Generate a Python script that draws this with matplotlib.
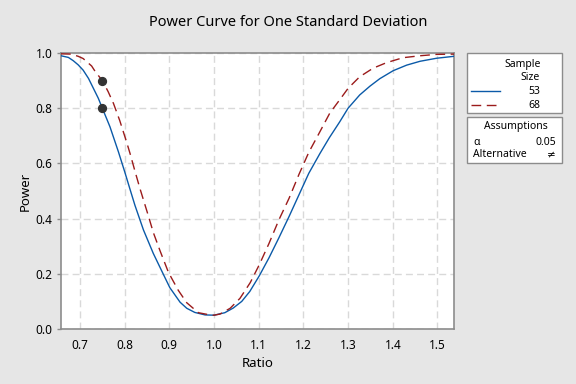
import matplotlib
matplotlib.use("Agg")
import matplotlib.pyplot as plt
from matplotlib.patches import Rectangle
from matplotlib.lines import Line2D

plt.rcParams['font.family'] = ['Noto Sans', 'DejaVu Sans']

# Sample size 53 (solid blue)
ratio_53 = [0.6575, 0.674, 0.685, 0.696, 0.707, 0.719, 0.730, 0.741, 0.75, 0.767, 0.786,
            0.800, 0.812, 0.823, 0.842, 0.864, 0.886, 0.901, 0.924, 0.939, 0.957, 0.980,
            1.000, 1.024, 1.043, 1.062, 1.080, 1.101, 1.123, 1.145, 1.168, 1.190, 1.212,
            1.237, 1.258, 1.281, 1.300, 1.326, 1.349, 1.371, 1.401, 1.431, 1.461, 1.498,
            1.537]
power_53 = [0.990, 0.984, 0.972, 0.957, 0.938, 0.908, 0.872, 0.836, 0.800, 0.733, 0.642,
            0.570, 0.506, 0.448, 0.359, 0.274, 0.200, 0.150, 0.097, 0.075, 0.060, 0.051,
            0.050, 0.059, 0.076, 0.100, 0.136, 0.192, 0.258, 0.330, 0.408, 0.486, 0.564,
            0.636, 0.693, 0.750, 0.800, 0.848, 0.880, 0.907, 0.936, 0.956, 0.970, 0.981,
            0.988]

# Sample size 68 (dashed red)
ratio_68 = [0.6575, 0.680, 0.696, 0.707, 0.726, 0.734, 0.75, 0.763, 0.775, 0.789, 0.804,
            0.812, 0.823, 0.834, 0.853, 0.864, 0.879, 0.898, 0.920, 0.939, 0.965, 0.991,
            1.000, 1.013, 1.036, 1.058, 1.081, 1.101, 1.123, 1.145, 1.168, 1.190, 1.212,
            1.235, 1.259, 1.281, 1.300, 1.326, 1.356, 1.386, 1.423, 1.461, 1.498, 1.537]
power_68 = [0.997, 0.996, 0.988, 0.980, 0.953, 0.933, 0.900, 0.860, 0.817, 0.755, 0.679,
            0.636, 0.572, 0.510, 0.410, 0.350, 0.284, 0.205, 0.140, 0.095, 0.059, 0.051,
            0.050, 0.054, 0.075, 0.111, 0.168, 0.232, 0.310, 0.395, 0.474, 0.560, 0.640,
            0.709, 0.782, 0.830, 0.872, 0.914, 0.945, 0.965, 0.983, 0.990, 0.995, 0.996]

# Target points
dot_ratio = [0.75, 0.75]
dot_power = [0.80, 0.90]

sample_sizes = ["53", "68"]
x_ticks = [0.7, 0.8, 0.9, 1.0, 1.1, 1.2, 1.3, 1.4, 1.5]
y_ticks = [0.0, 0.2, 0.4, 0.6, 0.8, 1.0]

BG = '#E6E6E6'
BLUE = '#0B5AA8'
RED = '#9B1B1B'
SPINE = '#8C8C8C'

fig = plt.figure(figsize=(5.76, 3.84), dpi=100, facecolor=BG)
ax = fig.add_axes([61/576, 1-329/384, (454-61)/576, (329-53)/384])
ax.set_facecolor('white')

ax.plot(ratio_53, power_53, color=BLUE, lw=1.0, zorder=3, solid_joinstyle='round')
ax.plot(ratio_68, power_68, color=RED, lw=1.0, dashes=(7, 4), zorder=3)
ax.scatter(dot_ratio, dot_power, s=32, color='#333333', zorder=4)

ax.set_xlim(0.6575, 1.537)
ax.set_ylim(0, 1.0)
ax.set_xticks(x_ticks)
ax.set_xticklabels([f"{v:.1f}" for v in x_ticks])
ax.set_yticks(y_ticks)
ax.set_yticklabels([f"{v:.1f}" for v in y_ticks])
ax.grid(True, color='#D9D9D9', lw=1.0, dashes=(5, 3))
ax.set_axisbelow(True)
for s in ax.spines.values():
    s.set_color(SPINE)
    s.set_linewidth(1.2)
ax.tick_params(axis='both', colors=SPINE, length=3, width=1, labelsize=8.5, labelcolor='black')
ax.tick_params(axis='x', length=0, pad=7)
ax.tick_params(axis='y', pad=3)
ax.set_xlabel("Ratio", fontsize=9.5, labelpad=4)
ax.set_ylabel("Power", fontsize=9.5, labelpad=3)

fig.text(288/576, 1-22/384, "Power Curve for One Standard Deviation", ha='center', va='center', fontsize=10.5)

def fx(px):
    return px / 576
def fy(py):
    return 1 - py / 384

# Legend box 1
fig.patches.append(Rectangle((fx(467), fy(113)), fx(562)-fx(467), fy(53)-fy(113),
                             transform=fig.transFigure, facecolor='white', edgecolor=SPINE, lw=1.0))
fs = 7.5
fig.text(fx(523), fy(64), "Sample", ha='center', va='center', fontsize=fs)
fig.text(fx(540), fy(77), "Size", ha='right', va='center', fontsize=fs)
fig.lines.append(Line2D([fx(471), fx(500)], [fy(91), fy(91)], transform=fig.transFigure,
                        color=BLUE, lw=1.0))
fig.lines.append(Line2D([fx(471), fx(498)], [fy(105), fy(105)], transform=fig.transFigure,
                        color=RED, lw=1.0, dashes=(7, 4)))
fig.text(fx(540), fy(91), sample_sizes[0], ha='right', va='center', fontsize=fs)
fig.text(fx(540), fy(105), sample_sizes[1], ha='right', va='center', fontsize=fs)

# Legend box 2
fig.patches.append(Rectangle((fx(467), fy(163)), fx(562)-fx(467), fy(117)-fy(163),
                             transform=fig.transFigure, facecolor='white', edgecolor=SPINE, lw=1.0))
fig.text(fx(516), fy(127), "Assumptions", ha='center', va='center', fontsize=fs)
fig.text(fx(473), fy(142), "α", ha='left', va='center', fontsize=fs)
fig.text(fx(556), fy(142), "0.05", ha='right', va='center', fontsize=fs)
fig.text(fx(473), fy(155), "Alternative", ha='left', va='center', fontsize=fs)
fig.text(fx(556), fy(155), "≠", ha='right', va='center', fontsize=fs)

fig.savefig("out.png", dpi=100, facecolor=BG)
